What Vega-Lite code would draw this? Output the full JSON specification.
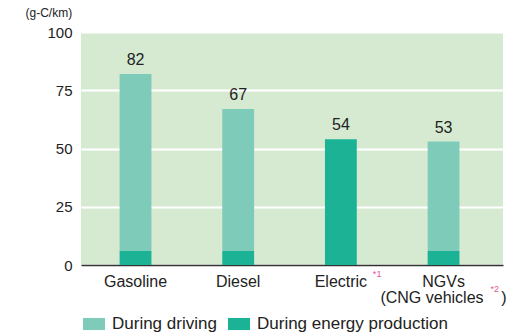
{
  "$schema": "https://vega.github.io/schema/vega-lite/v6.json",
  "autosize": {"type": "none"},
  "width": 422,
  "height": 233,
  "padding": {"left": 81, "top": 32, "right": 14, "bottom": 69},
  "background": "#ffffff",
  "config": {
    "view": {"fill": "#d6ead2", "stroke": null},
    "font": "Liberation Sans",
    "axis": {"labelFont": "Liberation Sans", "titleFont": "Liberation Sans", "labelColor": "#222222", "titleColor": "#222222"},
    "legend": {"labelFont": "Liberation Sans"}
  },
  "datasets": {
    "emissions": [
      {"vehicle": "Gasoline", "type": "During driving", "value": 76},
      {"vehicle": "Gasoline", "type": "During energy production", "value": 6},
      {"vehicle": "Diesel", "type": "During driving", "value": 61},
      {"vehicle": "Diesel", "type": "During energy production", "value": 6},
      {"vehicle": "Electric", "type": "During driving", "value": 0},
      {"vehicle": "Electric", "type": "During energy production", "value": 54},
      {"vehicle": "NGVs", "type": "During driving", "value": 47},
      {"vehicle": "NGVs", "type": "During energy production", "value": 6}
    ],
    "notes": [
      {"vehicle": "Electric", "note": "*1"},
      {"vehicle": "NGVs", "note": "*2"}
    ]
  },
  "layer": [
    {
      "data": {"name": "emissions"},
      "mark": {"type": "bar"},
      "encoding": {
        "x": {
          "field": "vehicle", "type": "nominal",
          "sort": ["Gasoline", "Diesel", "Electric", "NGVs"],
          "scale": {"paddingInner": 0.69, "paddingOuter": 0.4, "align": 0.47},
          "axis": {
            "title": null, "labelAngle": 0, "ticks": false,
            "domain": true, "domainColor": "#333333", "domainWidth": 1.5,
            "labelFontSize": 16, "labelPadding": 8, "labelLineHeight": 16,
            "labelExpr": "datum.label == 'NGVs' ? ['NGVs', '(CNG vehicles\u00a0\u00a0\u00a0\u00a0)'] : datum.label"
          }
        },
        "y": {
          "field": "value", "type": "quantitative", "stack": "zero",
          "scale": {"domain": [0, 100]},
          "axis": {
            "values": [0, 25, 50, 75, 100], "domain": false, "ticks": false,
            "grid": true, "gridColor": "#ffffff", "gridWidth": 2,
            "labelFontSize": 15, "labelPadding": 9,
            "title": "(g-C/km)", "titleAngle": 0, "titleAlign": "left",
            "titleBaseline": "bottom", "titleX": -56, "titleY": -13,
            "titleFontSize": 12, "titleFontWeight": "normal"
          }
        },
        "color": {
          "field": "type", "type": "nominal",
          "scale": {"domain": ["During driving", "During energy production"], "range": ["#7ecbb9", "#1bb296"]},
          "legend": {
            "title": null, "orient": "none", "direction": "horizontal",
            "legendX": 2, "legendY": 281,
            "symbolType": "M-1,-0.55H1V0.55H-1Z", "symbolSize": 484,
            "symbolStrokeWidth": 0, "labelFontSize": 17, "labelColor": "#222222",
            "labelOffset": 7, "columnPadding": 11, "labelLimit": 0
          }
        },
        "order": {"field": "type", "sort": "descending"}
      }
    },
    {
      "data": {"name": "emissions"},
      "transform": [{"aggregate": [{"op": "sum", "field": "value", "as": "total"}], "groupby": ["vehicle"]}],
      "mark": {"type": "text", "baseline": "bottom", "dy": -6, "fontSize": 16, "color": "#222222"},
      "encoding": {
        "x": {"field": "vehicle", "type": "nominal", "sort": ["Gasoline", "Diesel", "Electric", "NGVs"]},
        "y": {"field": "total", "type": "quantitative"},
        "text": {"field": "total", "type": "quantitative"}
      }
    },
    {
      "data": {"name": "notes"},
      "transform": [{"filter": "datum.vehicle == 'Electric'"}],
      "mark": {"type": "text", "fontSize": 9, "color": "#e0559a", "align": "left", "baseline": "middle", "dx": 32},
      "encoding": {
        "x": {"field": "vehicle", "type": "nominal", "sort": ["Gasoline", "Diesel", "Electric", "NGVs"]},
        "y": {"datum": -4},
        "text": {"field": "note"}
      }
    },
    {
      "data": {"name": "notes"},
      "transform": [{"filter": "datum.vehicle == 'NGVs'"}],
      "mark": {"type": "text", "fontSize": 9, "color": "#e0559a", "align": "left", "baseline": "middle", "dx": 47},
      "encoding": {
        "x": {"field": "vehicle", "type": "nominal", "sort": ["Gasoline", "Diesel", "Electric", "NGVs"]},
        "y": {"datum": -10.5},
        "text": {"field": "note"}
      }
    }
  ]
}
